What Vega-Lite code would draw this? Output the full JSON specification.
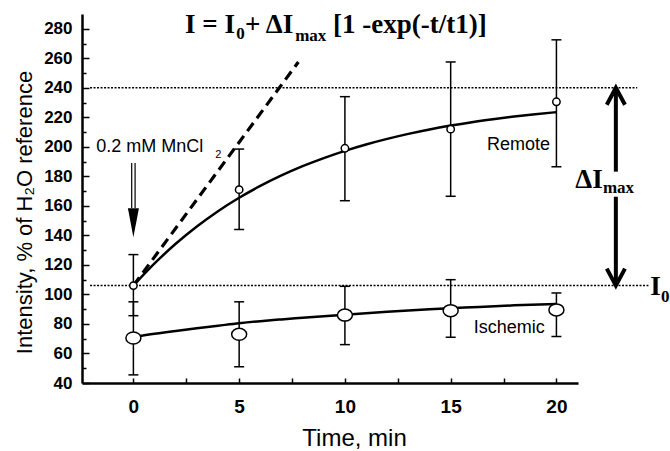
{
"$schema": "https://vega.github.io/schema/vega-lite/v6.json",
"width": 496, "height": 369,
"autosize": {"type": "none"},
"padding": {"left": 82, "top": 14, "right": 92, "bottom": 68},
"background": "white",
"config": {"view": {"stroke": null}, "axis": {"grid": false, "domainColor": "black", "domainWidth": 2.5, "tickColor": "black", "tickWidth": 1.5, "labelColor": "black", "titleColor": "black", "labelFont": "Liberation Sans", "titleFont": "Liberation Sans", "labelFontWeight": "bold", "titleFontWeight": "normal"}},
"datasets": {
 "pts": [
  {"series": "Remote", "t": 0, "mean": 106, "lo": 85.6, "hi": 127},
  {"series": "Remote", "t": 5, "mean": 171, "lo": 144, "hi": 198.5},
  {"series": "Remote", "t": 10, "mean": 199, "lo": 163.5, "hi": 234},
  {"series": "Remote", "t": 15, "mean": 212, "lo": 166.5, "hi": 257.5},
  {"series": "Remote", "t": 20, "mean": 230.5, "lo": 186.5, "hi": 272.5},
  {"series": "Ischemic", "t": 0, "mean": 70.5, "lo": 45.5, "hi": 95},
  {"series": "Ischemic", "t": 5, "mean": 73, "lo": 51, "hi": 95},
  {"series": "Ischemic", "t": 10, "mean": 86, "lo": 66, "hi": 105.5},
  {"series": "Ischemic", "t": 15, "mean": 89, "lo": 71, "hi": 110},
  {"series": "Ischemic", "t": 20, "mean": 89.5, "lo": 71.5, "hi": 101}
 ],
 "fits": [
  {"series": "Remote", "t": 0, "v": 106}, {"series": "Remote", "t": 1, "v": 121}, {"series": "Remote", "t": 2, "v": 134.3}, {"series": "Remote", "t": 3, "v": 146}, {"series": "Remote", "t": 4, "v": 156.4}, {"series": "Remote", "t": 5, "v": 165.5}, {"series": "Remote", "t": 6, "v": 173.5}, {"series": "Remote", "t": 7, "v": 180.6}, {"series": "Remote", "t": 8, "v": 186.9}, {"series": "Remote", "t": 9, "v": 192.4}, {"series": "Remote", "t": 10, "v": 197.3}, {"series": "Remote", "t": 11, "v": 201.6}, {"series": "Remote", "t": 12, "v": 205.4}, {"series": "Remote", "t": 13, "v": 208.8}, {"series": "Remote", "t": 14, "v": 211.8}, {"series": "Remote", "t": 15, "v": 214.4}, {"series": "Remote", "t": 16, "v": 216.7}, {"series": "Remote", "t": 17, "v": 218.7}, {"series": "Remote", "t": 18, "v": 220.5}, {"series": "Remote", "t": 19, "v": 222.1}, {"series": "Remote", "t": 20, "v": 223.5},
  {"series": "Ischemic", "t": 0, "v": 71}, {"series": "Ischemic", "t": 1, "v": 73.3}, {"series": "Ischemic", "t": 2, "v": 75.3}, {"series": "Ischemic", "t": 3, "v": 77.1}, {"series": "Ischemic", "t": 4, "v": 78.8}, {"series": "Ischemic", "t": 5, "v": 80.5}, {"series": "Ischemic", "t": 6, "v": 81.9}, {"series": "Ischemic", "t": 7, "v": 83.1}, {"series": "Ischemic", "t": 8, "v": 84.2}, {"series": "Ischemic", "t": 10, "v": 86.3}, {"series": "Ischemic", "t": 12, "v": 88.2}, {"series": "Ischemic", "t": 14, "v": 89.9}, {"series": "Ischemic", "t": 16, "v": 91.3}, {"series": "Ischemic", "t": 18, "v": 92.6}, {"series": "Ischemic", "t": 20, "v": 93.6}
 ],
 "slope": [{"t": 0, "v": 106}, {"t": 7.8, "v": 257.5}],
 "refs": [
  {"id": "max", "t": -2.05, "v": 240}, {"id": "max", "t": 23.82, "v": 240},
  {"id": "base", "t": -2.05, "v": 106}, {"id": "base", "t": 24.35, "v": 106}
 ],
 "arrows": [
  {"id": "up", "o": 1, "t": 22.81, "v": 240}, {"id": "up", "o": 2, "t": 22.81, "v": 183.2},
  {"id": "dn", "o": 1, "t": 22.81, "v": 166.2}, {"id": "dn", "o": 2, "t": 22.81, "v": 106},
  {"id": "hu", "o": 1, "t": 22.38, "v": 228.5}, {"id": "hu", "o": 2, "t": 22.81, "v": 240}, {"id": "hu", "o": 3, "t": 23.24, "v": 228.5},
  {"id": "hd", "o": 1, "t": 22.38, "v": 117.5}, {"id": "hd", "o": 2, "t": 22.81, "v": 106}, {"id": "hd", "o": 3, "t": 23.24, "v": 117.5}
 ],
 "shaft": [
  {"id": "a", "t": -0.08, "v": 189}, {"id": "a", "t": -0.08, "v": 158.6},
  {"id": "b", "t": 0.08, "v": 189}, {"id": "b", "t": 0.08, "v": 158.6}
 ],
 "head": [{"t": 0, "v": 148.5}],
 "serifBig": [
  {"txt": "I = I", "t": 2.44, "v": 277.1},
  {"txt": "+ ΔI", "t": 5.28, "v": 277.1},
  {"txt": "[1 -exp(-t/t1)]", "t": 9.44, "v": 277.1},
  {"txt": "ΔI", "t": 20.89, "v": 172.1},
  {"txt": "I", "t": 24.43, "v": 99.6}
 ],
 "serifSmall": [
  {"txt": "0", "t": 4.86, "v": 273.1},
  {"txt": "max", "t": 7.65, "v": 271.7},
  {"txt": "max", "t": 22.2, "v": 168.7},
  {"txt": "0", "t": 24.95, "v": 94.9}
 ],
 "mncl": [{"txt": "0.2 mM MnCl", "t": -1.76, "v": 196.5}],
 "sub2": [{"txt": "2", "t": 3.87, "v": 192.7}],
 "names": [
  {"txt": "Remote", "t": 19.7, "v": 197.9},
  {"txt": "Ischemic", "t": 19.45, "v": 74}
 ]
},
"encoding": {
 "x": {"field": "t", "type": "quantitative", "scale": {"domain": [-2.43, 21.02], "nice": false, "zero": false},
  "axis": {"title": "Time, min", "values": [0, 2.5, 5, 7.5, 10, 12.5, 15, 17.5, 20], "labelExpr": "datum.value % 5 === 0 ? datum.label : ''", "tickSize": -5, "labelPadding": 19, "labelFontSize": 19, "titleFontSize": 24, "titleX": 272, "titleY": 62, "titleAlign": "center", "titleBaseline": "alphabetic"}},
 "y": {"field": "v", "type": "quantitative", "scale": {"domain": [40, 290], "nice": false, "zero": false},
  "axis": {"title": "Intensity, % of  H₂O reference", "values": [40, 50, 60, 70, 80, 90, 100, 110, 120, 130, 140, 150, 160, 170, 180, 190, 200, 210, 220, 230, 240, 250, 260, 270, 280], "labelExpr": "datum.value % 20 === 0 ? datum.label : ''", "tickSize": {"condition": {"test": "datum.value % 20 === 0", "value": -7}, "value": -4}, "labelPadding": 17, "labelFontSize": 17, "titleFontSize": 22, "titleAngle": -90, "titleX": -51, "titleY": 198, "titleAlign": "center", "titleBaseline": "alphabetic"}}
},
"layer": [
 {"data": {"name": "refs"}, "mark": {"type": "line", "color": "black", "strokeWidth": 1.5, "strokeDash": [2, 1.5]}, "encoding": {"detail": {"field": "id"}}},
 {"data": {"name": "slope"}, "mark": {"type": "line", "color": "black", "strokeWidth": 3.2, "strokeDash": [10, 6]}, "encoding": {}},
 {"data": {"name": "fits"}, "mark": {"type": "line", "color": "black", "strokeWidth": 2.5, "interpolate": "monotone"}, "encoding": {"detail": {"field": "series"}}},
 {"data": {"name": "pts"}, "transform": [{"fold": ["lo", "hi"], "as": ["k", "v"]}], "mark": {"type": "line", "color": "black", "strokeWidth": 1.5}, "encoding": {"detail": [{"field": "series"}, {"field": "t"}]}},
 {"data": {"name": "pts"}, "transform": [{"fold": ["lo", "hi"], "as": ["k", "v"]}], "mark": {"type": "tick", "orient": "horizontal", "color": "black", "size": 10, "thickness": 1.5, "opacity": 1}, "encoding": {}},
 {"data": {"name": "pts"}, "transform": [{"filter": "datum.series === 'Remote'"}, {"fold": ["mean"], "as": ["k", "v"]}], "mark": {"type": "point", "shape": "circle", "filled": true, "fill": "white", "stroke": "black", "strokeWidth": 1.5, "size": 55, "opacity": 1}, "encoding": {}},
 {"data": {"name": "pts"}, "transform": [{"filter": "datum.series === 'Ischemic'"}, {"fold": ["mean"], "as": ["k", "v"]}], "mark": {"type": "point", "shape": "M-1,0A1,0.8,0,1,1,1,0A1,0.8,0,1,1,-1,0Z", "filled": true, "fill": "white", "stroke": "black", "strokeWidth": 1.5, "size": 225, "opacity": 1}, "encoding": {}},
 {"data": {"name": "arrows"}, "mark": {"type": "line", "color": "black", "strokeWidth": 4, "strokeJoin": "miter", "strokeCap": "butt"}, "encoding": {"detail": {"field": "id"}, "order": {"field": "o"}}},
 {"data": {"name": "shaft"}, "mark": {"type": "line", "color": "black", "strokeWidth": 1.2}, "encoding": {"detail": {"field": "id"}}},
 {"data": {"name": "head"}, "mark": {"type": "point", "shape": "M-0.38,-1L0.38,-1L0,1Z", "filled": true, "color": "black", "size": 841, "opacity": 1}, "encoding": {}},
 {"data": {"name": "serifBig"}, "mark": {"type": "text", "font": "Liberation Serif", "fontWeight": "bold", "fontSize": 27, "align": "left", "baseline": "alphabetic", "color": "black"}, "encoding": {"text": {"field": "txt"}}},
 {"data": {"name": "serifSmall"}, "mark": {"type": "text", "font": "Liberation Serif", "fontWeight": "bold", "fontSize": 17, "align": "left", "baseline": "alphabetic", "color": "black"}, "encoding": {"text": {"field": "txt"}}},
 {"data": {"name": "mncl"}, "mark": {"type": "text", "font": "Liberation Sans", "fontSize": 18, "align": "left", "baseline": "alphabetic", "color": "black"}, "encoding": {"text": {"field": "txt"}}},
 {"data": {"name": "sub2"}, "mark": {"type": "text", "font": "Liberation Sans", "fontSize": 11, "align": "left", "baseline": "alphabetic", "color": "black"}, "encoding": {"text": {"field": "txt"}}},
 {"data": {"name": "names"}, "mark": {"type": "text", "font": "Liberation Sans", "fontSize": 18, "align": "right", "baseline": "alphabetic", "color": "black"}, "encoding": {"text": {"field": "txt"}}}
]
}
